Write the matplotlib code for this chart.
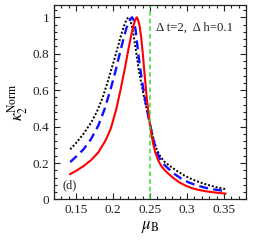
import matplotlib
matplotlib.use("Agg")
import matplotlib.pyplot as plt
from matplotlib.ticker import MultipleLocator

plt.rcParams["font.family"] = ["Liberation Serif", "DejaVu Serif"]
plt.rcParams["mathtext.fontset"] = "stix"

# ─── Data ─────────────────────────────────────────────────────────────────────
mu_red = [0.142, 0.150, 0.160, 0.170, 0.180, 0.190, 0.197, 0.204, 0.210, 0.216,
          0.221, 0.225, 0.228, 0.2305, 0.232, 0.2335, 0.236, 0.238, 0.240,
          0.2428, 0.2455, 0.248, 0.251, 0.254, 0.257, 0.261, 0.265, 0.270,
          0.276, 0.283, 0.290, 0.298, 0.306, 0.315, 0.325, 0.338, 0.352]
k_red = [0.139, 0.157, 0.183, 0.215, 0.258, 0.325, 0.390, 0.490, 0.600, 0.720,
         0.830, 0.910, 0.960, 0.990, 1.000, 0.990, 0.950, 0.890, 0.810,
         0.680, 0.560, 0.470, 0.380, 0.310, 0.260, 0.215, 0.185, 0.160,
         0.137, 0.113, 0.093, 0.076, 0.063, 0.053, 0.045, 0.038, 0.032]

mu_blue = [0.142, 0.150, 0.160, 0.170, 0.180, 0.188, 0.196, 0.203, 0.209, 0.214,
           0.218, 0.222, 0.2255, 0.228, 0.2305, 0.233, 0.236, 0.2385, 0.242,
           0.246, 0.250, 0.254, 0.2585, 0.263, 0.268, 0.275, 0.283, 0.292,
           0.302, 0.313, 0.325, 0.338, 0.352]
k_blue = [0.205, 0.235, 0.275, 0.330, 0.405, 0.490, 0.595, 0.700, 0.800, 0.880,
          0.940, 0.980, 1.000, 0.985, 0.930, 0.840, 0.740, 0.670, 0.580,
          0.490, 0.410, 0.335, 0.270, 0.225, 0.195, 0.168, 0.140, 0.115,
          0.094, 0.077, 0.064, 0.054, 0.046]

mu_black = [0.142, 0.150, 0.160, 0.170, 0.178, 0.186, 0.193, 0.200, 0.206, 0.211,
            0.215, 0.218, 0.2205, 0.2225, 0.225, 0.2275, 0.2305, 0.234, 0.238,
            0.2425, 0.246, 0.250, 0.254, 0.2585, 0.264, 0.270, 0.278, 0.287,
            0.297, 0.307, 0.318, 0.330, 0.341, 0.352]
k_black = [0.275, 0.310, 0.360, 0.420, 0.480, 0.560, 0.650, 0.745, 0.830, 0.905,
           0.955, 0.985, 1.000, 0.990, 0.960, 0.910, 0.830, 0.730, 0.640,
           0.550, 0.485, 0.415, 0.345, 0.280, 0.235, 0.205, 0.180, 0.155,
           0.130, 0.110, 0.093, 0.078, 0.066, 0.057]

mu_crit = 0.25

# ─── Plot ─────────────────────────────────────────────────────────────────────
fig = plt.figure(figsize=(2.58, 2.45), dpi=100)
ax = fig.add_axes([0.209, 0.186, 0.745, 0.794])

ax.plot(mu_black, k_black, color="black", lw=1.4, ls=(0, (1, 1)))
ax.plot(mu_blue, k_blue, color="#1010ff", lw=1.7, ls=(0, (3.8, 2.2)))
ax.plot(mu_red, k_red, color="#ff0000", lw=1.5)
ax.axvline(mu_crit, color="#33dd33", lw=1.1, ls=(0, (3, 2)))

ax.set_xlim(0.12, 0.38)
ax.set_ylim(0, 1.068)
ax.xaxis.set_minor_locator(MultipleLocator(0.01))
ax.yaxis.set_minor_locator(MultipleLocator(0.04))
ax.set_xticks([0.15, 0.2, 0.25, 0.3, 0.35])
ax.set_xticklabels(["0.15", "0.2", "0.25", "0.3", "0.35"])
ax.set_yticks([0, 0.2, 0.4, 0.6, 0.8, 1.0])
ax.set_yticklabels(["0", "0.2", "0.4", "0.6", "0.8", "1"])
ax.tick_params(which="both", direction="in", top=True, right=True,
               labelsize=9.5, colors="#222222", width=0.8)
ax.tick_params(which="major", length=4)
ax.tick_params(which="minor", length=2.2)
for s in ax.spines.values():
    s.set_linewidth(0.9)
    s.set_color("#222222")

ax.set_xlabel(r"$\mu_{\rm B}$", fontsize=12, labelpad=2)
ax.set_ylabel(r"$\kappa_2^{\rm Norm}$", fontsize=12, labelpad=2)

ax.text(0.2585, 0.945, "Δ t=2,  Δ h=0.1", fontsize=9.2, va="center",
        color="#222222")
ax.text(0.131, 0.079, "(d)", fontsize=9, va="center", color="#222222")

plt.savefig("out.png", dpi=100)
plt.close()
